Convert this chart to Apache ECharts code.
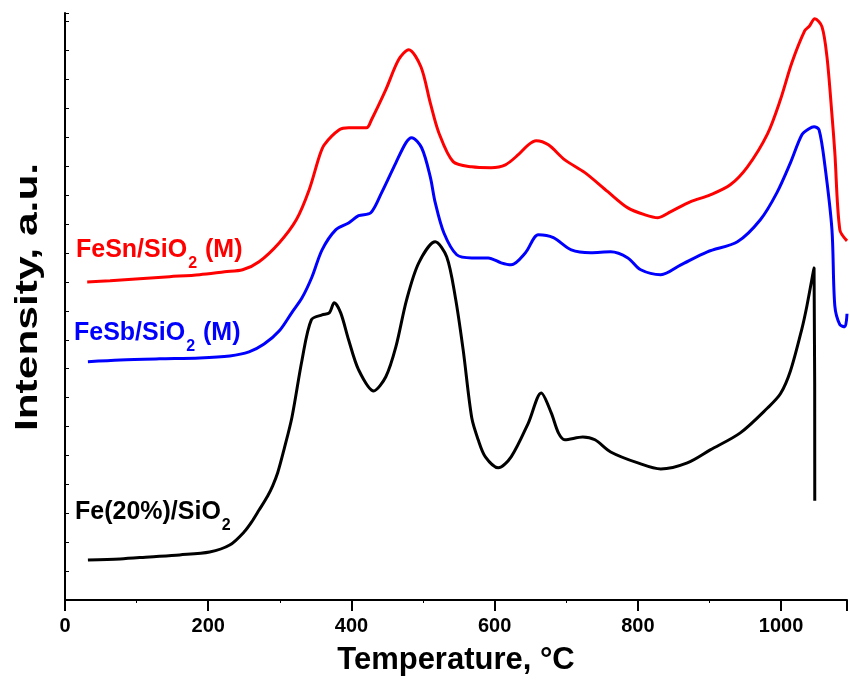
<!DOCTYPE html>
<html>
<head>
<meta charset="utf-8">
<title>TPR profiles</title>
<script src="https://cdn.jsdelivr.net/npm/echarts@6/dist/echarts.min.js"></script>
<style>
  html, body { margin: 0; padding: 0; background: #fff; }
  #chart { width: 850px; height: 695px; }
</style>
</head>
<body>
<div id="chart"></div>
<script>
// Temperature (°C) vs. intensity (a.u.) for each sample
const feSnSiO2 = [
  [31,11.00],[63,11.04],[104,11.11],[146,11.18],[188,11.25],[223,11.35],[248,11.42],[271,11.70],
  [299,12.35],[323,13.15],[341,14.19],[355,15.33],[362,15.74],[383,16.26],[396,16.33],[421,16.33],
  [428,16.61],[448,17.65],[466,18.69],[480,19.03],[497,18.44],[510,17.20],[522,16.16],[542,15.16],
  [568,14.98],[595,14.95],[615,15.05],[633,15.40],[647,15.74],[658,15.88],[675,15.74],[698,15.22],
  [726,14.78],[758,14.12],[786,13.56],[810,13.32],[828,13.22],[846,13.43],[873,13.77],[901,14.01],
  [929,14.36],[953,14.98],[981,16.12],[999,17.30],[1015,18.58],[1033,19.69],[1039,19.83],[1047,20.10],
  [1057,19.83],[1064,18.79],[1071,16.78],[1075,15.47],[1082,12.80],[1092,12.42]
];
const feSbSiO2 = [
  [32,8.24],[77,8.30],[132,8.34],[188,8.37],[230,8.44],[257,8.58],[278,8.85],[299,9.30],
  [317,9.95],[331,10.45],[345,11.18],[359,12.11],[378,12.80],[396,13.04],[410,13.29],[427,13.39],
  [442,14.08],[462,15.12],[476,15.81],[484,15.99],[498,15.64],[510,14.64],[517,13.74],[529,12.70],
  [547,11.94],[568,11.83],[591,11.83],[609,11.66],[623,11.59],[643,12.01],[661,12.63],[682,12.53],
  [707,12.11],[734,12.01],[762,12.04],[786,11.83],[804,11.42],[832,11.25],[860,11.59],[897,12.04],
  [939,12.39],[971,13.15],[994,14.08],[1013,15.12],[1029,16.09],[1039,16.30],[1046,16.37],[1053,16.26],
  [1061,15.05],[1071,12.80],[1075,10.17],[1082,9.52],[1089,9.45],[1092,9.90]
];
const fe20SiO2 = [
  [32,1.38],[77,1.42],[118,1.49],[160,1.56],[202,1.66],[230,1.90],[250,2.35],[262,2.75],[271,3.11],
  [283,3.60],[290,3.95],[297,4.40],[306,5.22],[317,6.33],[331,8.30],[344,9.69],[359,9.86],[369,9.93],[376,10.28],
  [385,9.93],[396,9.00],[410,7.96],[431,7.23],[448,7.72],[462,8.75],[477,10.38],[494,11.66],
  [517,12.39],[533,11.87],[545,10.48],[556,8.65],[568,6.30],[577,5.54],[587,4.95],[605,4.57],
  [623,4.95],[647,6.12],[665,7.16],[679,6.47],[689,5.78],[698,5.54],[723,5.64],[740,5.54],
  [762,5.12],[800,4.74],[832,4.53],[869,4.74],[901,5.19],[943,5.78],[981,6.64],[999,7.13],
  [1013,7.92],[1029,9.38],[1036,10.17],[1046,11.49],[1047,3.43]
];

const seriesNames = ['FeSn/SiO2 (M)', 'FeSb/SiO2 (M)', 'Fe(20%)/SiO2'];
const seriesColors = ['#ff0000', '#0000ff', '#000000'];
const xTickValues = [0, 200, 400, 600, 800, 1000];

const FONT = '"Liberation Sans", Arial, Helvetica, sans-serif';

const chart = echarts.init(document.getElementById('chart'), null, { renderer: 'canvas' });

const mainStyle = { fontFamily: FONT, fontWeight: 'bold', fontSize: 25, verticalAlign: 'top', lineHeight: 28 };
const subStyle = { fontFamily: FONT, fontWeight: 'bold', fontSize: 16, verticalAlign: 'top', lineHeight: 16, padding: [18, 1, 0, 1] };

// Sample name drawn beside its curve, with a subscript "2"
function labelText(x, y, text, color) {
  return {
    type: 'text',
    left: x,
    top: y,
    z: 100,
    style: {
      text: text,
      fill: color,
      rich: {
        m: Object.assign({}, mainStyle, { color: color }),
        s: Object.assign({}, subStyle, { color: color })
      }
    }
  };
}

const option = {
  animation: false,
  backgroundColor: '#ffffff',
  grid: { left: 65, right: 0, top: 13, bottom: 95, containLabel: false },
  xAxis: {
    type: 'value',
    min: 0,
    max: 1092,
    interval: 200,
    name: 'Temperature, °C',
    nameLocation: 'middle',
    nameGap: 45,
    nameTextStyle: { fontFamily: FONT, fontWeight: 'bold', fontSize: 31, color: '#000' },
    axisLine: { show: true, onZero: false, lineStyle: { color: '#000', width: 2 } },
    axisTick: { show: true, inside: false, length: 11, lineStyle: { color: '#000', width: 2 } },
    minorTick: { show: true, splitNumber: 2, length: 3, lineStyle: { color: '#000', width: 1 } },
    splitLine: { show: false },
    axisLabel: {
      margin: 16,
      fontFamily: FONT, fontWeight: 'bold', fontSize: 20, color: '#000',
      formatter: function (v) { return xTickValues.indexOf(v) >= 0 ? String(v) : ''; }
    }
  },
  yAxis: {
    type: 'value',
    min: 0,
    max: 20.3,
    interval: 1,
    axisLine: { show: true, onZero: false, lineStyle: { color: '#000', width: 2 } },
    axisTick: { show: true, inside: true, length: 4, lineStyle: { color: '#000', width: 1 } },
    axisLabel: { show: false },
    splitLine: { show: false }
  },
  series: [feSnSiO2, feSbSiO2, fe20SiO2].map(function (data, i) {
    return {
      name: seriesNames[i],
      type: 'line',
      data: data,
      showSymbol: false,
      smooth: 0.3,
      clip: true,
      lineStyle: { color: seriesColors[i], width: 3 },
      itemStyle: { color: seriesColors[i] }
    };
  }),
  graphic: [
    labelText(76, 238, '{m|FeSn/SiO}{s|2}{m| (M)}', seriesColors[0]),
    labelText(74, 321, '{m|FeSb/SiO}{s|2}{m| (M)}', seriesColors[1]),
    labelText(75, 500, '{m|Fe(20%)/SiO}{s|2}', seriesColors[2]),
    // y-axis title, stretched along its reading direction
    {
      type: 'text',
      x: 28,
      y: 297,
      rotation: Math.PI / 2,
      scaleX: 1.37,
      scaleY: 1,
      z: 100,
      style: {
        text: 'Intensity, a.u.',
        fill: '#000',
        font: 'bold 31px ' + FONT,
        align: 'center',
        verticalAlign: 'middle'
      }
    }
  ]
};

chart.setOption(option);
</script>
</body>
</html>
